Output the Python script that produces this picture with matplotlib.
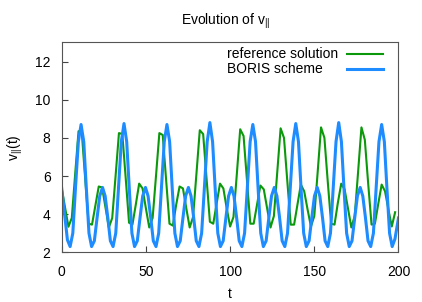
import matplotlib
matplotlib.use("Agg")
import matplotlib.pyplot as plt
from matplotlib.lines import Line2D

plt.rcParams['font.family'] = ['Liberation Sans', 'DejaVu Sans']
plt.rcParams['mathtext.fontset'] = 'custom'
plt.rcParams['mathtext.rm'] = 'Liberation Sans'
plt.rcParams['mathtext.it'] = 'Liberation Sans'

# reference solution, sampled every 2 time units
ref_t = list(range(0, 200, 2))
ref_v = [5.35, 4.35, 3.34, 3.8, 6.1, 8.35, 8.2, 5.8, 3.5, 3.45,
         4.45, 5.45, 5.4, 4.35, 3.3, 3.8, 6.0, 8.25, 8.2, 5.9,
         3.55, 3.45, 4.5, 5.6, 5.35, 4.3, 3.3, 3.8, 6.0, 8.25,
         8.15, 5.8, 3.5, 3.4, 4.5, 5.45, 5.35, 4.3, 3.3, 3.85,
         6.1, 8.4, 8.2, 5.9, 3.6, 3.5, 4.55, 5.6, 5.35, 4.3,
         3.35, 3.85, 6.1, 8.45, 8.1, 5.8, 3.5, 3.5, 4.5, 5.5,
         5.3, 4.3, 3.3, 3.9, 6.2, 8.5, 8.0, 5.7, 3.45, 3.45,
         4.5, 5.55, 5.2, 4.25, 3.35, 3.9, 6.2, 8.55, 8.0, 5.7,
         3.5, 3.45, 4.6, 5.6, 5.3, 4.3, 3.3, 3.9, 6.2, 8.55,
         7.9, 5.6, 3.45, 3.5, 4.55, 5.55, 5.2, 4.25, 3.35, 4.1]

# BORIS scheme
boris_t = [0, 1.9, 3.4, 5.0,
           6.6, 8.2, 9.9, 11.5,
           13.1, 14.6, 16.2, 17.75,
           19.4, 21.0, 22.6, 24.25,
           25.8, 27.4, 28.9, 30.5,
           32.1, 33.75, 35.4, 37.0,
           38.6, 40.1, 41.7, 43.25,
           44.9, 46.5, 48.1, 49.75,
           51.3, 52.9, 54.4, 56.0,
           57.6, 59.25, 60.9, 62.5,
           64.1, 65.6, 67.2, 68.75,
           70.4, 72.0, 73.6, 75.25,
           76.8, 78.4, 79.9, 81.5,
           83.1, 84.75, 86.4, 88.0,
           89.6, 91.1, 92.7, 94.25,
           95.9, 97.5, 99.1, 100.75,
           102.3, 103.9, 105.4, 107.0,
           108.6, 110.25, 111.9, 113.5,
           115.1, 116.6, 118.2, 119.75,
           121.4, 123.0, 124.6, 126.25,
           127.8, 129.4, 130.9, 132.5,
           134.1, 135.75, 137.4, 139.0,
           140.6, 142.1, 143.7, 145.25,
           146.9, 148.5, 150.1, 151.75,
           153.3, 154.9, 156.4, 158.0,
           159.6, 161.25, 162.9, 164.5,
           166.1, 167.6, 169.2, 170.75,
           172.4, 174.0, 175.6, 177.25,
           178.8, 180.4, 181.9, 183.5,
           185.1, 186.75, 188.4, 190.0,
           191.6, 193.1, 194.7, 196.25,
           197.9, 200.0]
boris_v = [5.35, 3.85, 2.65, 2.3,
           3.0, 5.4, 7.8, 8.7,
           7.8, 5.4, 3.0, 2.3,
           2.6, 3.8, 4.95, 5.4,
           4.95, 3.8, 2.6, 2.3,
           3.0, 5.4, 7.8, 8.75,
           7.8, 5.4, 3.0, 2.3,
           2.6, 3.8, 4.95, 5.4,
           4.95, 3.8, 2.6, 2.3,
           3.0, 5.4, 7.8, 8.7,
           7.8, 5.4, 3.0, 2.3,
           2.6, 3.8, 4.95, 5.4,
           4.95, 3.8, 2.6, 2.3,
           3.0, 5.4, 7.8, 8.8,
           7.8, 5.4, 3.0, 2.3,
           2.6, 3.8, 4.95, 5.4,
           4.95, 3.8, 2.6, 2.3,
           3.0, 5.4, 7.8, 8.7,
           7.8, 5.4, 3.0, 2.3,
           2.6, 3.8, 4.95, 5.4,
           4.95, 3.8, 2.6, 2.3,
           3.0, 5.4, 7.8, 8.75,
           7.8, 5.4, 3.0, 2.3,
           2.6, 3.8, 4.95, 5.4,
           4.95, 3.8, 2.6, 2.3,
           3.0, 5.4, 7.8, 8.8,
           7.8, 5.4, 3.0, 2.3,
           2.6, 3.8, 4.95, 5.4,
           4.95, 3.8, 2.6, 2.3,
           3.0, 5.4, 7.8, 8.7,
           7.8, 5.4, 3.0, 2.3,
           2.7, 3.8]

x_ticks = [0, 50, 100, 150, 200]
y_ticks = [2, 4, 6, 8, 10, 12]

GREEN = '#0b990b'
BLUE = '#1e8cff'
FS = 10

fig = plt.figure(figsize=(4.22, 3.02), dpi=100)
ax = fig.add_axes([0.1462, 0.1646, 0.7981, 0.6947])

ax.plot(ref_t, ref_v, color=GREEN, lw=1.5)
ax.plot(boris_t, boris_v, color=BLUE, lw=2.2)

ax.set_xlim(0, 200)
ax.set_ylim(2, 13)
ax.set_xticks(x_ticks)
ax.set_yticks(y_ticks)
ax.tick_params(direction='in', length=4, width=0.8, color='#444444',
               labelsize=FS)
ax.tick_params(axis='x', pad=9)
ax.tick_params(axis='y', pad=8)
for sp in ax.spines.values():
    sp.set_color('#555555')
    sp.set_linewidth(0.8)

ax.set_xlabel('t', fontsize=FS, labelpad=6)
ax.set_ylabel(r'$\mathregular{v_{||}(t)}$', fontsize=FS, labelpad=7)
fig.text(0.5355, 1 - 21.7 / 302, r'Evolution of $\mathregular{v_{||}}$',
         fontsize=FS, ha='center', va='center')

# gnuplot-style key: label on the left, line sample on the right
labels = ['reference solution', 'BORIS scheme']
colors = [GREEN, BLUE]
widths = [1.5, 2.2]
for i, (lab, col, w) in enumerate(zip(labels, colors, widths)):
    yy = 0.944 - 0.072 * i
    ax.text(0.492, yy, lab, transform=ax.transAxes, fontsize=FS,
            ha='left', va='center')
    ax.add_line(Line2D([0.846, 0.954], [yy, yy], transform=ax.transAxes,
                       color=col, lw=w))

fig.savefig('out.png', dpi=100)
